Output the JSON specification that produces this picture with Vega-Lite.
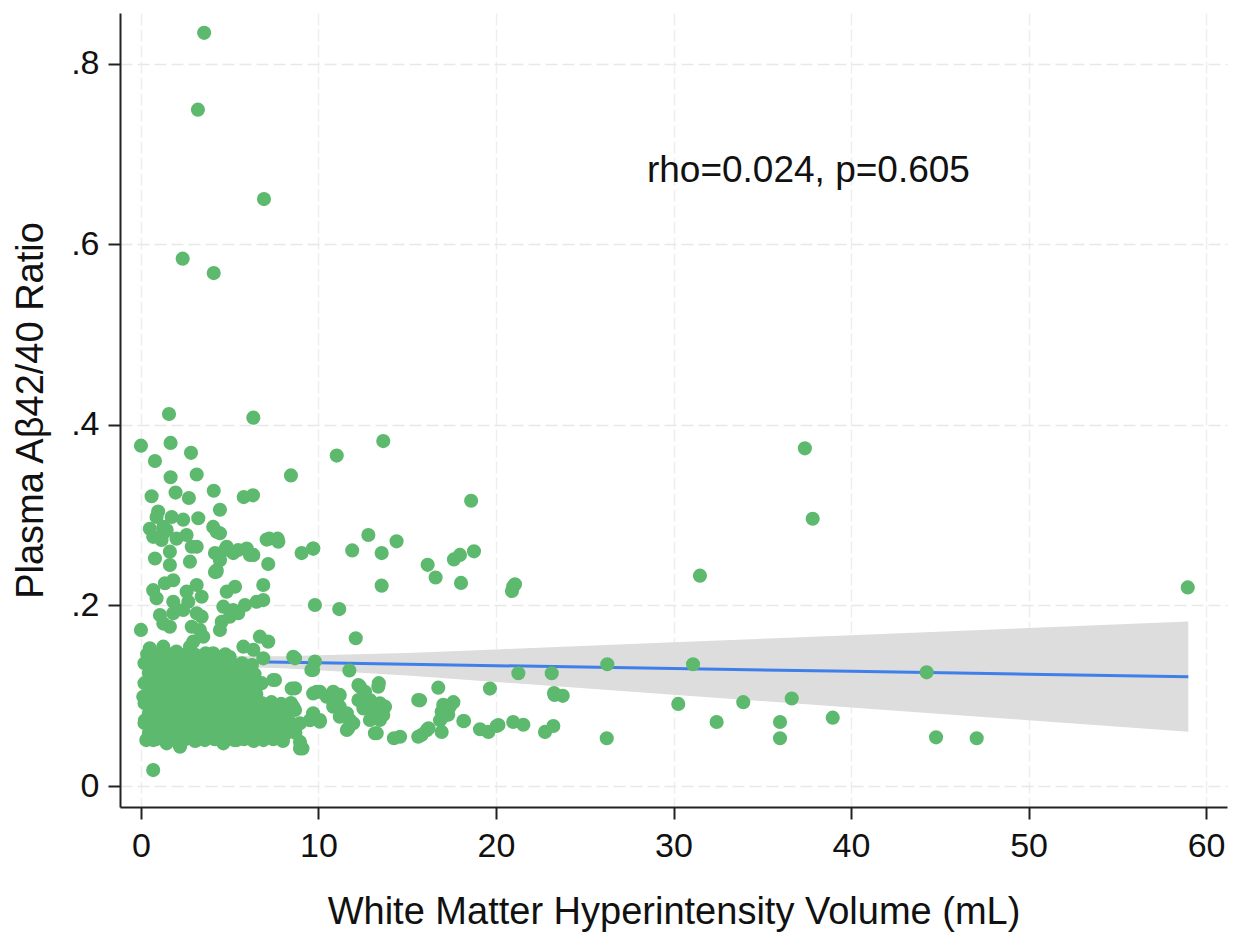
{
  "$schema": "https://vega.github.io/schema/vega-lite/v6.json",
  "autosize": "none",
  "width": 1107,
  "height": 794,
  "padding": {"left": 120, "top": 13, "right": 7, "bottom": 125},
  "background": "white",
  "datasets": {
    "fit": [
      {"x": 0, "fit": 0.1396, "lo": 0.1313, "hi": 0.1479},
      {"x": 2, "fit": 0.1390, "lo": 0.1322, "hi": 0.1458},
      {"x": 5, "fit": 0.1380, "lo": 0.1320, "hi": 0.1440},
      {"x": 8, "fit": 0.1371, "lo": 0.1304, "hi": 0.1438},
      {"x": 10, "fit": 0.1365, "lo": 0.1282, "hi": 0.1448},
      {"x": 15, "fit": 0.1349, "lo": 0.1224, "hi": 0.1474},
      {"x": 20, "fit": 0.1334, "lo": 0.1154, "hi": 0.1514},
      {"x": 30, "fit": 0.1302, "lo": 0.1012, "hi": 0.1592},
      {"x": 40, "fit": 0.1271, "lo": 0.0871, "hi": 0.1671},
      {"x": 50, "fit": 0.1240, "lo": 0.0730, "hi": 0.1750},
      {"x": 59, "fit": 0.1212, "lo": 0.0602, "hi": 0.1822}
    ],
    "note": [{"x": 37.6, "y": 0.669, "label": "rho=0.024, p=0.605"}],
    "pts": [
      {"x": 3.56, "y": 0.834}, {"x": 3.21, "y": 0.749}, {"x": 6.93, "y": 0.650}, {"x": 2.35, "y": 0.584}, {"x": 4.10, "y": 0.568},
      {"x": 1.58, "y": 0.412}, {"x": 6.33, "y": 0.408}, {"x": 0.0, "y": 0.377}, {"x": 1.67, "y": 0.380}, {"x": 2.82, "y": 0.369},
      {"x": 0.79, "y": 0.360}, {"x": 8.45, "y": 0.344}, {"x": 1.67, "y": 0.342}, {"x": 3.14, "y": 0.345}, {"x": 0.60, "y": 0.321},
      {"x": 1.95, "y": 0.325}, {"x": 2.70, "y": 0.319}, {"x": 4.10, "y": 0.327}, {"x": 5.79, "y": 0.320}, {"x": 6.31, "y": 0.322},
      {"x": 4.45, "y": 0.306},
      {"x": 13.65, "y": 0.382}, {"x": 11.03, "y": 0.366}, {"x": 12.81, "y": 0.278}, {"x": 14.4, "y": 0.271}, {"x": 11.9, "y": 0.261},
      {"x": 13.56, "y": 0.258}, {"x": 9.71, "y": 0.263}, {"x": 9.05, "y": 0.258}, {"x": 7.23, "y": 0.274}, {"x": 7.7, "y": 0.274},
      {"x": 7.17, "y": 0.246}, {"x": 4.17, "y": 0.237},
      {"x": 18.6, "y": 0.316}, {"x": 13.56, "y": 0.222}, {"x": 16.15, "y": 0.245}, {"x": 16.6, "y": 0.231}, {"x": 17.63, "y": 0.251},
      {"x": 17.97, "y": 0.256}, {"x": 18.76, "y": 0.260}, {"x": 18.03, "y": 0.225}, {"x": 9.8, "y": 0.2006}, {"x": 11.17, "y": 0.196},
      {"x": 20.97, "y": 0.221}, {"x": 20.9, "y": 0.216}, {"x": 21.07, "y": 0.2235}, {"x": 37.4, "y": 0.374}, {"x": 37.84, "y": 0.296},
      {"x": 31.49, "y": 0.233},
      {"x": 26.27, "y": 0.135}, {"x": 31.1, "y": 0.135}, {"x": 21.26, "y": 0.125}, {"x": 23.14, "y": 0.125}, {"x": 16.75, "y": 0.109},
      {"x": 19.66, "y": 0.108}, {"x": 23.27, "y": 0.103}, {"x": 23.76, "y": 0.100}, {"x": 15.72, "y": 0.095}, {"x": 30.27, "y": 0.091},
      {"x": 33.93, "y": 0.093}, {"x": 36.66, "y": 0.097}, {"x": 17.03, "y": 0.090}, {"x": 17.4, "y": 0.088}, {"x": 16.94, "y": 0.0824},
      {"x": 17.31, "y": 0.079}, {"x": 18.2, "y": 0.072}, {"x": 32.43, "y": 0.071}, {"x": 36.0, "y": 0.071}, {"x": 19.1, "y": 0.063},
      {"x": 19.57, "y": 0.060}, {"x": 20.04, "y": 0.0666}, {"x": 20.97, "y": 0.071}, {"x": 21.54, "y": 0.068}, {"x": 22.76, "y": 0.060},
      {"x": 23.23, "y": 0.0666}, {"x": 16.94, "y": 0.060}, {"x": 15.8, "y": 0.0566}, {"x": 16.1, "y": 0.062}, {"x": 14.6, "y": 0.0547},
      {"x": 26.24, "y": 0.053}, {"x": 36.0, "y": 0.053},
      {"x": 44.26, "y": 0.126}, {"x": 38.97, "y": 0.0758}, {"x": 44.79, "y": 0.054}, {"x": 47.08, "y": 0.053}, {"x": 58.97, "y": 0.220},
      {"x": 12.1, "y": 0.1637}, {"x": 11.74, "y": 0.128}, {"x": 9.8, "y": 0.138}, {"x": 9.6, "y": 0.1286}, {"x": 13.4, "y": 0.114},
      {"x": 12.25, "y": 0.112}, {"x": 9.9, "y": 0.1045}, {"x": 9.7, "y": 0.0787}, {"x": 10.08, "y": 0.0713}, {"x": 11.68, "y": 0.064},
      {"x": 13.28, "y": 0.0585}, {"x": 14.25, "y": 0.053}, {"x": 17.6, "y": 0.093}, {"x": 18.16, "y": 0.072}, {"x": 16.2, "y": 0.064},
      {"x": 20.14, "y": 0.0677}, {"x": 23.3, "y": 0.101}, {"x": 9.1, "y": 0.0418}, {"x": 8.96, "y": 0.0695},
      {"x": 0.97, "y": 0.304}, {"x": 0.5, "y": 0.285}, {"x": 0.88, "y": 0.298}, {"x": 1.73, "y": 0.298}, {"x": 2.38, "y": 0.295},
      {"x": 3.23, "y": 0.2966}, {"x": 1.45, "y": 0.2836}, {"x": 1.16, "y": 0.2725}, {"x": 2.57, "y": 0.278}, {"x": 1.63, "y": 0.2596},
      {"x": 0.79, "y": 0.252}, {"x": 2.86, "y": 0.265}, {"x": 2.76, "y": 0.2485}, {"x": 1.63, "y": 0.2448}, {"x": 2.0, "y": 0.274},
      {"x": 1.26, "y": 0.287}, {"x": 4.07, "y": 0.287}, {"x": 4.26, "y": 0.2817}, {"x": 4.17, "y": 0.258}, {"x": 4.73, "y": 0.2615},
      {"x": 5.2, "y": 0.258}, {"x": 4.45, "y": 0.25}, {"x": 4.26, "y": 0.2375}, {"x": 5.96, "y": 0.263}, {"x": 6.33, "y": 0.256},
      {"x": 7.08, "y": 0.273},
      {"x": 0.69, "y": 0.276}, {"x": 1.26, "y": 0.28}, {"x": 3.14, "y": 0.265}, {"x": 4.45, "y": 0.28}, {"x": 4.83, "y": 0.265},
      {"x": 5.48, "y": 0.2615}, {"x": 6.14, "y": 0.256}, {"x": 4.26, "y": 0.239}, {"x": 7.74, "y": 0.2707}, {"x": 9.7, "y": 0.263},
      {"x": 0.69, "y": 0.217}, {"x": 1.35, "y": 0.2246}, {"x": 1.82, "y": 0.228}, {"x": 0.88, "y": 0.208}, {"x": 2.57, "y": 0.2153},
      {"x": 3.14, "y": 0.2227}, {"x": 3.42, "y": 0.2097}, {"x": 1.82, "y": 0.2042}, {"x": 2.67, "y": 0.2042}, {"x": 4.83, "y": 0.2153},
      {"x": 5.3, "y": 0.2208}, {"x": 4.64, "y": 0.1987}, {"x": 5.2, "y": 0.195}, {"x": 5.86, "y": 0.2006}, {"x": 6.52, "y": 0.2042},
      {"x": 6.89, "y": 0.206}, {"x": 6.89, "y": 0.2227}, {"x": 1.07, "y": 0.1895}, {"x": 1.82, "y": 0.1914}, {"x": 2.38, "y": 0.195},
      {"x": 3.14, "y": 0.1914}, {"x": 1.63, "y": 0.1765}, {"x": 1.26, "y": 0.18}, {"x": 0.0, "y": 0.173}, {"x": 3.42, "y": 0.1876},
      {"x": 3.32, "y": 0.1729}, {"x": 2.86, "y": 0.1765}, {"x": 4.55, "y": 0.182}, {"x": 4.45, "y": 0.1729}, {"x": 5.01, "y": 0.1876},
      {"x": 5.48, "y": 0.1914}, {"x": 2.95, "y": 0.16}, {"x": 3.51, "y": 0.1655}, {"x": 2.76, "y": 0.1544}, {"x": 6.7, "y": 0.1655},
      {"x": 7.17, "y": 0.16}, {"x": 5.77, "y": 0.1544}, {"x": 8.58, "y": 0.1433},
      {"x": 0.5, "y": 0.1526}, {"x": 1.26, "y": 0.1544}, {"x": 2.0, "y": 0.149}, {"x": 4.07, "y": 0.147}, {"x": 5.0, "y": 0.143},
      {"x": 6.33, "y": 0.151}, {"x": 6.89, "y": 0.1415},
      {"x": 0.69, "y": 0.051}, {"x": 1.45, "y": 0.0474}, {"x": 2.2, "y": 0.0436}, {"x": 3.14, "y": 0.051}, {"x": 4.64, "y": 0.0474},
      {"x": 5.39, "y": 0.051}, {"x": 6.33, "y": 0.0547}, {"x": 7.27, "y": 0.0585}, {"x": 8.96, "y": 0.0418}, {"x": 0.69, "y": 0.0178},
      {"x": 9.52, "y": 0.073}, {"x": 9.7, "y": 0.1027}, {"x": 7.55, "y": 0.1175}, {"x": 8.68, "y": 0.1083}, {"x": 8.68, "y": 0.1415},
      {"x": 9.7, "y": 0.1286}, {"x": 8.68, "y": 0.0843}, {"x": 8.58, "y": 0.0621}, {"x": 0.13, "y": 0.099}, {"x": 0.23, "y": 0.073},
      {"x": 7.45, "y": 0.1175}, {"x": 10.46, "y": 0.099}, {"x": 11.03, "y": 0.0917}, {"x": 11.6, "y": 0.0806}, {"x": 11.96, "y": 0.0695},
      {"x": 11.6, "y": 0.0621}, {"x": 12.34, "y": 0.11}, {"x": 13.37, "y": 0.11}, {"x": 13.65, "y": 0.0879}, {"x": 13.28, "y": 0.0769},
      {"x": 13.18, "y": 0.0585}, {"x": 9.7, "y": 0.0806}, {"x": 10.08, "y": 0.0732}, {"x": 10.83, "y": 0.0879}, {"x": 11.2, "y": 0.0769},
      {"x": 8.96, "y": 0.049}, {"x": 8.49, "y": 0.108}, {"x": 8.58, "y": 0.088}, {"x": 15.62, "y": 0.0953}, {"x": 15.62, "y": 0.0547},
      {"x": 10.08, "y": 0.1045}, {"x": 10.83, "y": 0.1045}, {"x": 11.2, "y": 0.101}, {"x": 10.83, "y": 0.0935}, {"x": 11.2, "y": 0.088},
      {"x": 11.77, "y": 0.0732}, {"x": 12.62, "y": 0.1045}, {"x": 13.46, "y": 0.0917}, {"x": 13.75, "y": 0.088}, {"x": 12.9, "y": 0.0953},
      {"x": 12.25, "y": 0.0953}, {"x": 12.53, "y": 0.086}, {"x": 13.09, "y": 0.0824}, {"x": 13.65, "y": 0.0787}, {"x": 12.9, "y": 0.0732},
      {"x": 13.46, "y": 0.0732}, {"x": 17.2, "y": 0.086}, {"x": 16.85, "y": 0.073}, {"x": 17.03, "y": 0.077},
      {"x": 0.35, "y": 0.146}, {"x": 0.9, "y": 0.145}, {"x": 1.45, "y": 0.147}, {"x": 2.0, "y": 0.144}, {"x": 2.55, "y": 0.146},
      {"x": 3.1, "y": 0.145}, {"x": 3.65, "y": 0.147}, {"x": 4.2, "y": 0.144}, {"x": 4.75, "y": 0.146},
      {"x": 0.2, "y": 0.136}, {"x": 0.75, "y": 0.135}, {"x": 1.3, "y": 0.137}, {"x": 1.85, "y": 0.136}, {"x": 2.4, "y": 0.134},
      {"x": 2.95, "y": 0.137}, {"x": 3.5, "y": 0.135}, {"x": 4.05, "y": 0.136}, {"x": 4.6, "y": 0.137}, {"x": 5.15, "y": 0.135},
      {"x": 5.7, "y": 0.136}, {"x": 6.25, "y": 0.134},
      {"x": 0.45, "y": 0.125}, {"x": 1.0, "y": 0.126}, {"x": 1.55, "y": 0.124}, {"x": 2.1, "y": 0.125}, {"x": 2.65, "y": 0.126},
      {"x": 3.2, "y": 0.124}, {"x": 3.75, "y": 0.125}, {"x": 4.3, "y": 0.126}, {"x": 4.85, "y": 0.124}, {"x": 5.4, "y": 0.125},
      {"x": 5.95, "y": 0.126}, {"x": 6.4, "y": 0.124},
      {"x": 0.2, "y": 0.114}, {"x": 0.75, "y": 0.115}, {"x": 1.3, "y": 0.113}, {"x": 1.85, "y": 0.114}, {"x": 2.4, "y": 0.115},
      {"x": 2.95, "y": 0.113}, {"x": 3.5, "y": 0.114}, {"x": 4.05, "y": 0.115}, {"x": 4.6, "y": 0.113}, {"x": 5.15, "y": 0.114},
      {"x": 5.7, "y": 0.115}, {"x": 6.25, "y": 0.113}, {"x": 6.8, "y": 0.114},
      {"x": 0.45, "y": 0.103}, {"x": 1.0, "y": 0.104}, {"x": 1.55, "y": 0.102}, {"x": 2.1, "y": 0.103}, {"x": 2.65, "y": 0.104},
      {"x": 3.2, "y": 0.102}, {"x": 3.75, "y": 0.103}, {"x": 4.3, "y": 0.104}, {"x": 4.85, "y": 0.102}, {"x": 5.4, "y": 0.103},
      {"x": 5.95, "y": 0.104}, {"x": 6.5, "y": 0.102},
      {"x": 0.2, "y": 0.092}, {"x": 0.75, "y": 0.093}, {"x": 1.3, "y": 0.091}, {"x": 1.85, "y": 0.092}, {"x": 2.4, "y": 0.093},
      {"x": 2.95, "y": 0.091}, {"x": 3.5, "y": 0.092}, {"x": 4.05, "y": 0.093}, {"x": 4.6, "y": 0.091}, {"x": 5.15, "y": 0.092},
      {"x": 5.7, "y": 0.093}, {"x": 6.25, "y": 0.091}, {"x": 6.8, "y": 0.092}, {"x": 7.35, "y": 0.093}, {"x": 7.9, "y": 0.091},
      {"x": 8.45, "y": 0.092},
      {"x": 0.45, "y": 0.081}, {"x": 1.0, "y": 0.082}, {"x": 1.55, "y": 0.080}, {"x": 2.1, "y": 0.081}, {"x": 2.65, "y": 0.082},
      {"x": 3.2, "y": 0.080}, {"x": 3.75, "y": 0.081}, {"x": 4.3, "y": 0.082}, {"x": 4.85, "y": 0.080}, {"x": 5.4, "y": 0.081},
      {"x": 5.95, "y": 0.082}, {"x": 6.5, "y": 0.080}, {"x": 7.05, "y": 0.081}, {"x": 7.6, "y": 0.082}, {"x": 8.15, "y": 0.080},
      {"x": 0.2, "y": 0.070}, {"x": 0.75, "y": 0.071}, {"x": 1.3, "y": 0.069}, {"x": 1.85, "y": 0.070}, {"x": 2.4, "y": 0.071},
      {"x": 2.95, "y": 0.069}, {"x": 3.5, "y": 0.070}, {"x": 4.05, "y": 0.071}, {"x": 4.6, "y": 0.069}, {"x": 5.15, "y": 0.070},
      {"x": 5.7, "y": 0.071}, {"x": 6.25, "y": 0.069}, {"x": 6.8, "y": 0.070}, {"x": 7.35, "y": 0.071}, {"x": 7.9, "y": 0.069},
      {"x": 8.45, "y": 0.070},
      {"x": 0.45, "y": 0.059}, {"x": 1.0, "y": 0.060}, {"x": 1.55, "y": 0.058}, {"x": 2.1, "y": 0.059}, {"x": 2.65, "y": 0.060},
      {"x": 3.2, "y": 0.058}, {"x": 3.75, "y": 0.059}, {"x": 4.3, "y": 0.060}, {"x": 4.85, "y": 0.058}, {"x": 5.4, "y": 0.059},
      {"x": 5.95, "y": 0.060}, {"x": 6.5, "y": 0.058}, {"x": 7.05, "y": 0.059}, {"x": 7.6, "y": 0.060}, {"x": 8.15, "y": 0.058},
      {"x": 8.7, "y": 0.059},
      {"x": 0.3, "y": 0.051}, {"x": 0.85, "y": 0.052}, {"x": 1.4, "y": 0.050}, {"x": 1.95, "y": 0.051}, {"x": 2.5, "y": 0.052},
      {"x": 3.05, "y": 0.050}, {"x": 3.6, "y": 0.051}, {"x": 4.15, "y": 0.052}, {"x": 4.7, "y": 0.050}, {"x": 5.25, "y": 0.051},
      {"x": 5.8, "y": 0.052}, {"x": 6.35, "y": 0.050}, {"x": 6.9, "y": 0.051}, {"x": 7.45, "y": 0.052}, {"x": 8.0, "y": 0.050}
    ]
  },
  "layer": [
    {
      "data": {"name": "fit"},
      "mark": {"type": "area", "color": "#dddddd", "opacity": 1},
      "encoding": {
        "x": {
          "field": "x", "type": "quantitative",
          "scale": {"domain": [-1.18, 61.18], "nice": false, "zero": false},
          "axis": {"values": [0, 10, 20, 30, 40, 50, 60], "grid": true, "labelPadding": 10, "titlePadding": 30,
                   "gridColor": "#eeeeee", "gridDash": [12, 4]},
          "title": "White Matter Hyperintensity Volume (mL)"
        },
        "y": {
          "field": "lo", "type": "quantitative",
          "scale": {"domain": [-0.0231, 0.856], "nice": false, "zero": false},
          "axis": {"values": [0, 0.2, 0.4, 0.6, 0.8], "grid": true, "labelPadding": 9, "titlePadding": 20,
                   "labelExpr": "datum.value == 0 ? '0' : replace(format(datum.value, '.1f'), '0.', '.')"},
          "title": "Plasma Aβ42/40 Ratio"
        },
        "y2": {"field": "hi"}
      }
    },
    {
      "data": {"name": "fit"},
      "mark": {"type": "line", "color": "#3f7fe9", "strokeWidth": 3},
      "encoding": {
        "x": {"field": "x", "type": "quantitative"},
        "y": {"field": "fit", "type": "quantitative"}
      }
    },
    {
      "data": {"name": "pts"},
      "mark": {"type": "circle", "size": 200, "color": "#5db96e", "opacity": 1},
      "encoding": {
        "x": {"field": "x", "type": "quantitative"},
        "y": {"field": "y", "type": "quantitative"}
      }
    },
    {
      "data": {"name": "note"},
      "mark": {"type": "text", "font": "Liberation Sans", "fontSize": 37, "color": "#111111", "align": "center", "baseline": "alphabetic"},
      "encoding": {
        "x": {"field": "x", "type": "quantitative"},
        "y": {"field": "y", "type": "quantitative"},
        "text": {"field": "label"}
      }
    }
  ],
  "config": {
    "view": {"stroke": null},
    "axis": {
      "domainColor": "#222222", "domainWidth": 2,
      "tickColor": "#222222", "tickWidth": 2, "tickSize": 12,
      "labelFont": "Liberation Sans", "labelFontSize": 34, "labelColor": "#111111",
      "titleFont": "Liberation Sans", "titleFontSize": 38, "titleFontWeight": "normal", "titleColor": "#111111",
      "gridColor": "#e8e8e8", "gridDash": [12, 5], "gridWidth": 1.5
    }
  }
}
